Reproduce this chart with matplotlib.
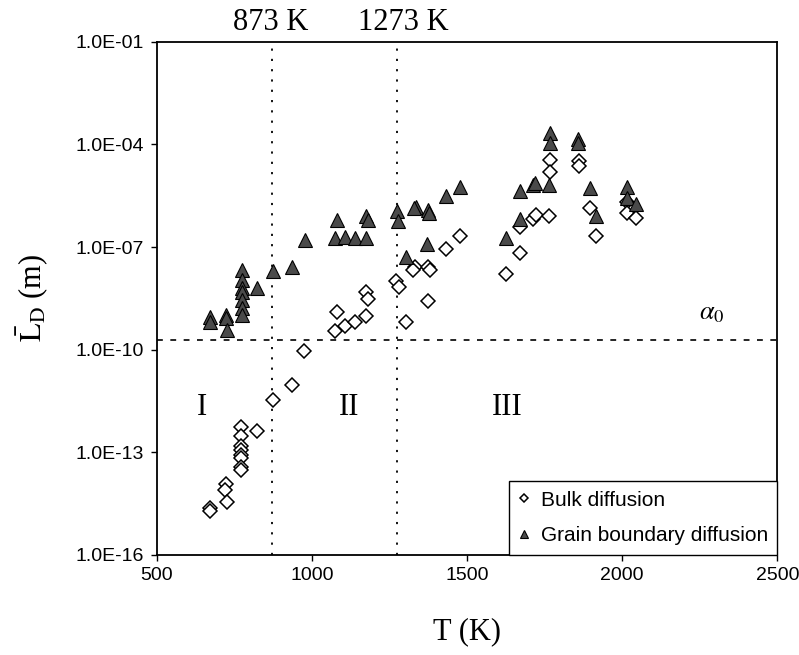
import numpy as np
import matplotlib
matplotlib.use('Agg')
import matplotlib.pyplot as plt
from matplotlib.ticker import FixedLocator, FuncFormatter, NullLocator

plt.rcParams['mathtext.fontset'] = 'stix'

# Bulk diffusion (diamonds)
T_bulk = [672, 672, 723, 720, 726, 772, 772, 772, 772, 772, 772, 772, 772,
          822, 874, 935, 975, 1074, 1081, 1108, 1138, 1173, 1176, 1181,
          1270, 1280, 1304, 1331, 1326, 1374, 1380, 1374, 1433, 1476,
          1626, 1671, 1671, 1714, 1722, 1763, 1768, 1768, 1862, 1862,
          1896, 1915, 2017, 2017, 2044]
L_bulk = [2.3e-15, 1.9e-15, 1.2e-14, 7.6e-15, 3.5e-15, 5.6e-13, 2.9e-13,
          1.5e-13, 1.2e-13, 8.3e-14, 6.8e-14, 3.8e-14, 3.0e-14,
          4.3e-13, 3.4e-12, 9.3e-12, 9.3e-11, 3.4e-10, 1.3e-9, 4.8e-10,
          6.6e-10, 9.8e-10, 5.0e-9, 3.0e-9,
          1.05e-8, 6.8e-9, 6.6e-10, 2.7e-8, 2.2e-8, 2.7e-8, 2.2e-8, 2.7e-9,
          8.7e-8, 2.1e-7,
          1.6e-8, 6.6e-8, 3.8e-7, 6.6e-7, 8.7e-7, 8.1e-7, 3.5e-5, 1.6e-5,
          3.2e-5, 2.4e-5,
          1.4e-6, 2.1e-7, 2.1e-6, 9.8e-7, 6.9e-7]

# Grain boundary diffusion (triangles)
T_gb = [672, 672, 723, 723, 726, 774, 774, 774, 774, 774, 774, 774,
        824, 874, 935, 977, 1074, 1082, 1106, 1138, 1173, 1173, 1181,
        1273, 1277, 1304, 1335, 1330, 1374, 1378, 1372, 1433, 1476,
        1626, 1671, 1671, 1714, 1720, 1763, 1768, 1768, 1859, 1859,
        1896, 1915, 2017, 2017, 2044]
L_gb = [9.3e-10, 6.6e-10, 1.0e-9, 8.5e-10, 3.8e-10, 2.1e-8, 1.1e-8,
        6.5e-9, 4.9e-9, 2.9e-9, 1.7e-9, 1.0e-9,
        6.5e-9, 2.0e-8, 2.7e-8, 1.6e-7, 1.9e-7, 6.3e-7, 2.0e-7, 1.9e-7,
        1.9e-7, 8.3e-7, 6.3e-7,
        1.1e-6, 5.6e-7, 5.0e-8, 1.5e-6, 1.4e-6, 1.2e-6, 1.0e-6, 1.2e-7,
        3.2e-6, 5.9e-6,
        1.9e-7, 4.5e-6, 6.6e-7, 6.6e-6, 7.4e-6, 6.6e-6, 2.2e-4, 1.1e-4,
        1.4e-4, 1.1e-4,
        5.2e-6, 8.1e-7, 5.6e-6, 2.7e-6, 1.8e-6]

T_lines = [873, 1273]
alpha0 = 1.95e-10
regions = ['I', 'II', 'III']
T_regions = [646, 1119, 1629]

y_ticks = [1e-16, 1e-13, 1e-10, 1e-7, 1e-4, 1e-1]
x_ticks = [500, 1000, 1500, 2000, 2500]

serif = 'Liberation Serif'
sans = 'Liberation Sans'

fig = plt.figure(figsize=(7.99, 6.55), dpi=100)
ax = fig.add_axes([0.196, 0.153, 0.777, 0.783])

ax.plot(T_bulk, L_bulk, ls='none', marker='D', ms=7, mfc='white',
        mec='black', mew=1.1, label='Bulk diffusion', zorder=3)
ax.plot(T_gb, L_gb, ls='none', marker='^', ms=10, mfc='#4a4a4a',
        mec='black', mew=0.8, label='Grain boundary diffusion', zorder=4)

ax.set_yscale('log')
ax.set_xlim(500, 2500)
ax.set_ylim(1e-16, 1e-1)

for t in T_lines:
    ax.axvline(t, color='black', lw=1.3, ls=(0, (1.2, 4.5)), zorder=1)
ax.axhline(alpha0, color='black', lw=1.2, ls=(0, (3.5, 4.5)), zorder=1)

# annotations
ax.text(866, 1.35e-1, '873 K', family=serif, fontsize=22, ha='center', va='bottom')
ax.text(1296, 1.35e-1, '1273 K', family=serif, fontsize=22, ha='center', va='bottom')
for lab, t in zip(regions, T_regions):
    ax.text(t, 2.1e-12, lab, family=serif, fontsize=22, ha='center', va='center')
ax.text(2289, 1.2e-9, r'$\alpha_0$', fontsize=19, ha='center', va='center')

ax.yaxis.set_major_locator(FixedLocator(y_ticks))
ax.yaxis.set_minor_locator(NullLocator())
ax.yaxis.set_major_formatter(FuncFormatter(
    lambda v, p: '1.0E%+03d' % int(round(np.log10(v)))))
ax.set_xticks(x_ticks)
ax.tick_params(direction='out', length=4, width=1, labelsize=14, pad=5)
for lab in ax.get_xticklabels() + ax.get_yticklabels():
    lab.set_family(sans)

ax.set_xlabel('T (K)', family=serif, fontsize=22, labelpad=24)
ax.set_ylabel(r'$\bar{\mathrm{L}}_{\mathrm{D}}$ (m)', family=serif,
              fontsize=22, labelpad=18)

for s in ax.spines.values():
    s.set_linewidth(1.3)

leg = ax.legend(loc='lower right', borderaxespad=0, fancybox=False,
                edgecolor='black', framealpha=1, prop={'family': sans, 'size': 15},
                markerscale=0.6, handlelength=0.6, handletextpad=0.5,
                labelspacing=0.8, borderpad=0.45)
leg.get_frame().set_linewidth(1.0)

fig.savefig('out.png', dpi=100)
